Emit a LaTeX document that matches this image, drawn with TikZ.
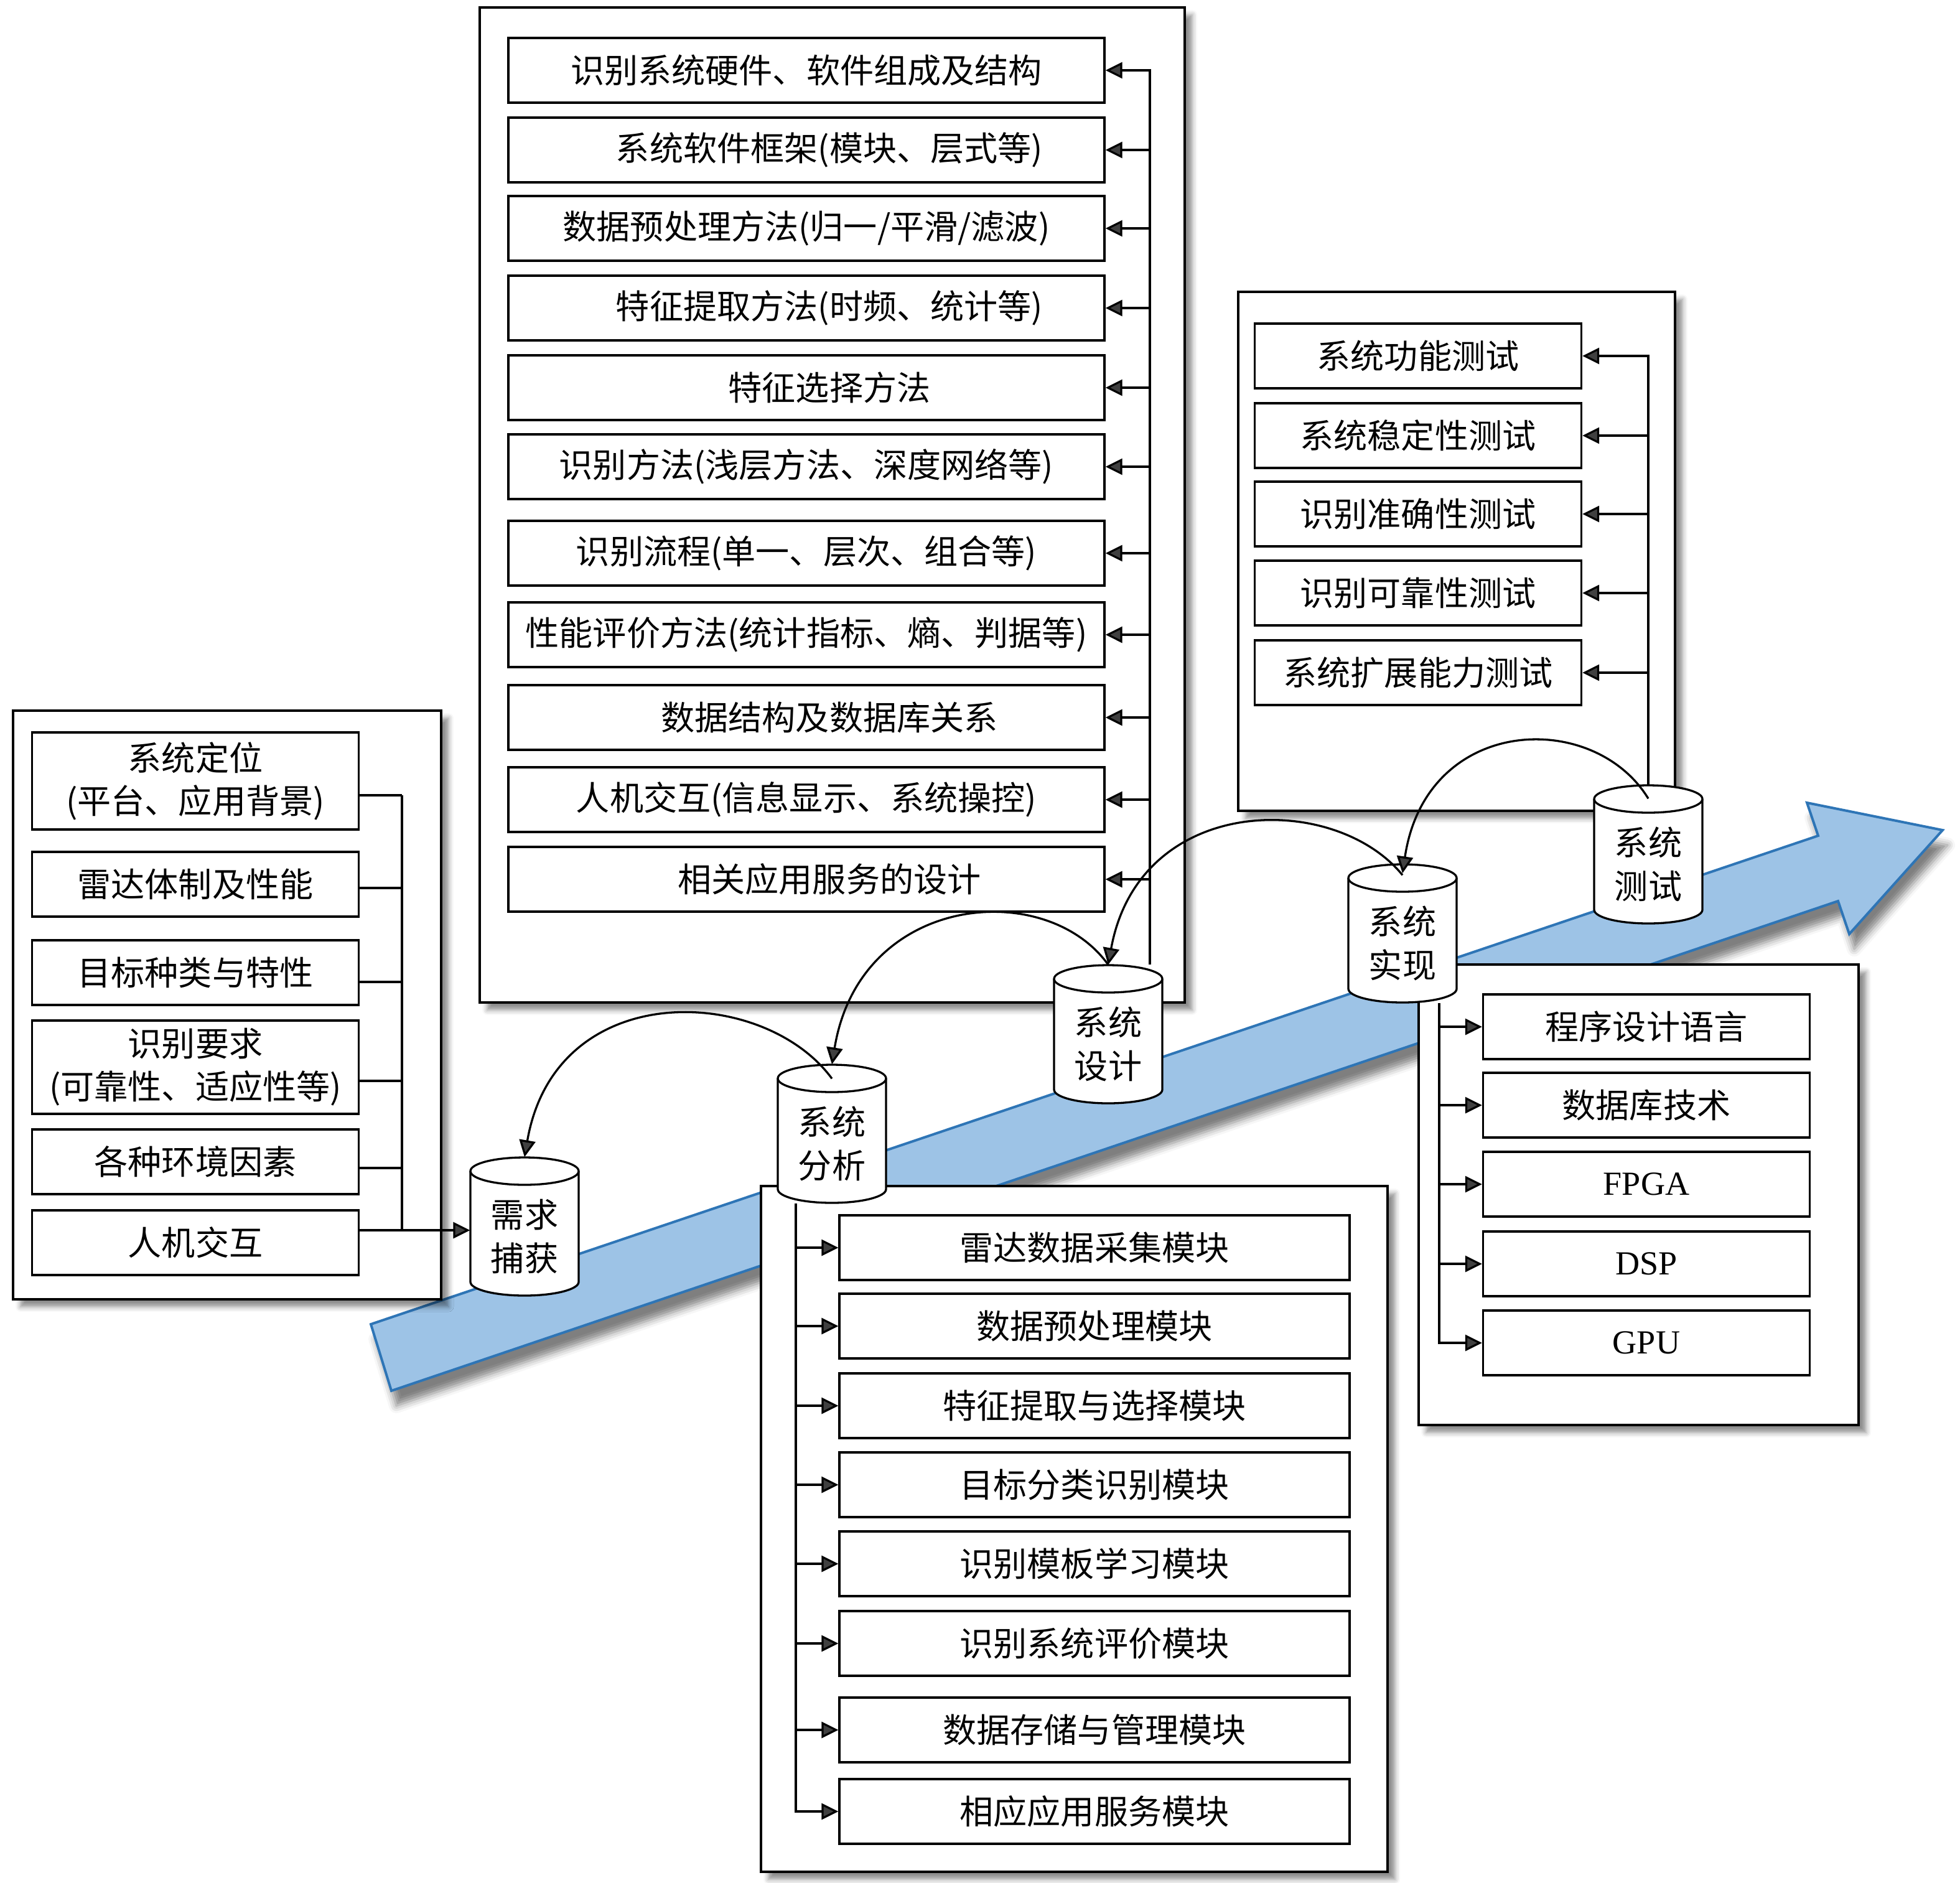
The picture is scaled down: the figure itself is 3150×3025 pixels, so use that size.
\documentclass[tikz,border=0pt]{standalone}
\usepackage{fontspec}
\setmainfont{Liberation Serif}
\newfontfamily\cjk{Noto Sans CJK SC}
\usetikzlibrary{fit,arrows.meta,shadows.blur}

\definecolor{flowfill}{RGB}{157,195,230}
\definecolor{flowline}{RGB}{46,117,182}

\tikzset{
	frame/.style={draw,line width=0.4mm,fill=white,inner sep=0pt,
		blur shadow={shadow xshift=1.2mm,shadow yshift=-1.2mm,shadow blur radius=0.8mm,shadow opacity=45}},
	item/.style={draw,line width=0.33mm,fill=white,inner sep=0pt,minimum height=10.4mm,align=center,
		font=\cjk\fontsize{15.4pt}{19.6pt}\selectfont},
	wide/.style={item,minimum width=95.8mm},
	mid/.style={item,minimum width=82mm},
	short/.style={item,minimum width=52.5mm},
	drum/.style={line width=0.33mm,fill=white},
	drumtext/.style={minimum width=17.4mm,minimum height=22.2mm,inner sep=0pt},
	drumlabel/.style={align=center,inner sep=0pt,font=\cjk\fontsize{15.4pt}{20pt}\selectfont},
	link/.style={line width=0.33mm},
	flow/.style={fill=flowfill,draw=flowline,line width=0.4mm,line join=miter,
		blur shadow={shadow xshift=0.8mm,shadow yshift=-2.4mm,shadow blur radius=1.2mm,shadow opacity=50}}
}

\begin{document}
\begin{tikzpicture}[x=0.1mm,y=-0.1mm,>={Triangle[length=2.7mm,width=2.6mm]}]
	\useasboundingbox (0,0) rectangle (3150,3025);

	% the big arrow
	\draw[flow] (596,2128) -- (629,2235) -- (2954,1448) -- (2972,1501) -- (3122,1334)
		-- (2904,1290) -- (2922,1343) -- cycle;

	% frames
	\coordinate (rq1) at (21,1142);   \coordinate (rq2) at (709,2088);
	\coordinate (ds1) at (771,12);    \coordinate (ds2) at (1904,1611);
	\coordinate (ts1) at (1990,469);  \coordinate (ts2) at (2692,1303);
	\coordinate (im1) at (2280,1550); \coordinate (im2) at (2987,2290);
	\coordinate (an1) at (1223,1906); \coordinate (an2) at (2230,3008);
	\node[frame,fit=(rq1) (rq2)] (reqframe) {};
	\node[frame,fit=(ds1) (ds2)] (desframe) {};
	\node[frame,fit=(ts1) (ts2)] (tstframe) {};
	\node[frame,fit=(im1) (im2)] (impframe) {};
	\node[frame,fit=(an1) (an2)] (anaframe) {};

	% requirements
	\node[short,minimum height=15.6mm] (r1) at (314,1255) {系统定位\\(平台、应用背景)};
	\node[short] (r2) at (314,1421) {雷达体制及性能};
	\node[short] (r3) at (314,1563) {目标种类与特性};
	\node[short,minimum height=15mm] (r4) at (314,1715) {识别要求\\(可靠性、适应性等)};
	\node[short] (r5) at (314,1867) {各种环境因素};
	\node[short] (r6) at (314,1997) {人机交互};

	% design
	\node[wide] (d1) at (1296,113) {识别系统硬件、软件组成及结构};
	\node[wide] (d2) at (1296,241) {\hspace*{7.4mm}系统软件框架(模块、层式等)};
	\node[wide] (d3) at (1296,367) {数据预处理方法(归一/平滑/滤波)};
	\node[wide] (d4) at (1296,495) {\hspace*{7.4mm}特征提取方法(时频、统计等)};
	\node[wide] (d5) at (1296,623) {\hspace*{7.4mm}特征选择方法};
	\node[wide] (d6) at (1296,750) {识别方法(浅层方法、深度网络等)};
	\node[wide] (d7) at (1296,889) {识别流程(单一、层次、组合等)};
	\node[wide] (d8) at (1296,1020) {性能评价方法(统计指标、熵、判据等)};
	\node[wide] (d9) at (1296,1153) {\hspace*{7.4mm}数据结构及数据库关系};
	\node[wide] (d10) at (1296,1285) {人机交互(信息显示、系统操控)};
	\node[wide] (d11) at (1296,1413) {\hspace*{7.4mm}相关应用服务的设计};

	% tests
	\node[short] (t1) at (2279,572) {系统功能测试};
	\node[short] (t2) at (2279,700) {系统稳定性测试};
	\node[short] (t3) at (2279,826) {识别准确性测试};
	\node[short] (t4) at (2279,953) {识别可靠性测试};
	\node[short] (t5) at (2279,1081) {系统扩展能力测试};

	% implementation
	\node[short] (m1) at (2646,1650) {程序设计语言};
	\node[short] (m2) at (2646,1776) {数据库技术};
	\node[short] (m3) at (2646,1903) {\rmfamily FPGA};
	\node[short] (m4) at (2646,2031) {\rmfamily DSP};
	\node[short] (m5) at (2646,2158) {\rmfamily GPU};

	% analysis
	\node[mid] (a1) at (1759,2005) {雷达数据采集模块};
	\node[mid] (a2) at (1759,2131) {数据预处理模块};
	\node[mid] (a3) at (1759,2259) {特征提取与选择模块};
	\node[mid] (a4) at (1759,2386) {目标分类识别模块};
	\node[mid] (a5) at (1759,2513) {识别模板学习模块};
	\node[mid] (a6) at (1759,2641) {识别系统评价模块};
	\node[mid] (a7) at (1759,2780) {数据存储与管理模块};
	\node[mid] (a8) at (1759,2911) {相应应用服务模块};

	% stages
	\foreach \n/\x/\y/\t in {req/843/1971/{需求\\捕获},ana/1337/1822/{系统\\分析},
		des/1781/1662/{系统\\设计},imp/2254/1500/{系统\\实现},tst/2649/1373/{系统\\测试}}{
		\draw[drum] (\x-87,\y-89) arc[start angle=180,end angle=360,x radius=87,y radius=22]
			-- (\x+87,\y+89) arc[start angle=0,end angle=180,x radius=87,y radius=22] -- cycle;
		\draw[drum] (\x-87,\y-89) arc[start angle=180,end angle=0,x radius=87,y radius=22];
		\node[drumtext] (\n) at (\x,\y) {};
		\node[drumlabel] at (\x,\y+16) {\t};
	}

	% buses
	\coordinate (lbus) at (646,1255);
	\coordinate (tbus) at (1848,113);
	\coordinate (mbus) at (2313,1650);
	\coordinate (abus) at (1279,2005);

	\foreach \b/\s in {r1/-2.3mm,r2/-0.6mm,r3/-1.5mm,r4/-2.2mm,r5/-1mm}
		\draw[link] ([yshift=\s]\b.east) -- ([yshift=\s]\b.east -| lbus);
	\draw[link] ([yshift=-2.3mm]lbus |- r1.east) -- ([yshift=2mm]lbus |- r6.east);
	\draw[link,->] ([yshift=2mm]r6.east) -- ([yshift=2mm]r6.east -| req.west);

	\draw[link,->] (tbus |- des.north) -- (tbus |- d1.east) -- (d1.east);
	\foreach \i in {2,...,11}
		\draw[link,->] (d\i.east -| tbus) -- (d\i.east);

	\draw[link,->] (tst.north) -- (tst.north |- t1.east) -- (t1.east);
	\foreach \i in {2,...,5}
		\draw[link,->] (t\i.east -| tst.north) -- (t\i.east);

	\draw[link,->] (mbus |- imp.south) -- (mbus |- m5.west) -- (m5.west);
	\foreach \i in {1,...,4}
		\draw[link,->] (m\i.west -| mbus) -- (m\i.west);

	\draw[link,->] (abus |- ana.south) -- (abus |- a8.west) -- (a8.west);
	\foreach \i in {1,...,7}
		\draw[link,->] (a\i.west -| abus) -- (a\i.west);

	% loops between stages
	\draw[link,->] ([yshift=-2.2mm]tst.north) .. controls +(-88,-144) and +(38,-254) .. ([yshift=-1.5mm]imp.north);
	\draw[link,->] ([yshift=-1.8mm]imp.north) .. controls +(-110,-135) and +(50,-275) .. (des.north);
	\draw[link,->] (des.north) .. controls +(-100,-140) and +(45,-275) .. (ana.north);
	\draw[link,->] ([yshift=-2.3mm]ana.north) .. controls +(-110,-150) and +(50,-290) .. (req.north);

\end{tikzpicture}
\end{document}
